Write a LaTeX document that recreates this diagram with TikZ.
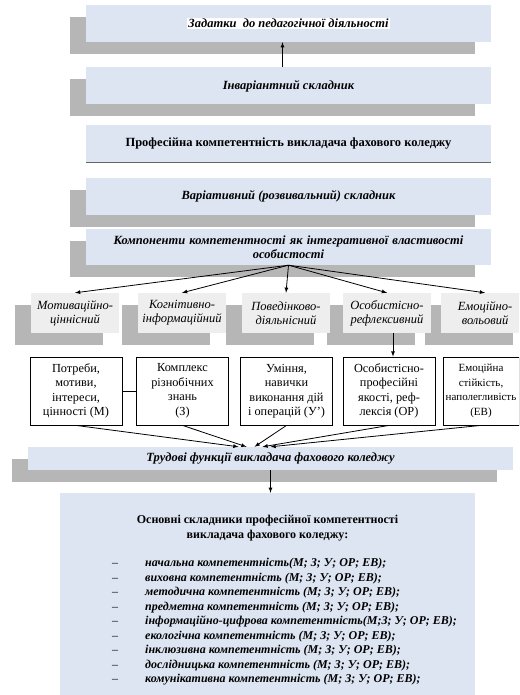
\documentclass[tikz,border=0pt]{standalone}
\usepackage{fontspec}
\setmainfont{Liberation Serif}
\usetikzlibrary{shadows,positioning}
\definecolor{barblue}{RGB}{221,229,242}
\definecolor{shgray}{RGB}{182,182,182}
\definecolor{compgray}{RGB}{238,238,238}
\newcommand{\itm}[1]{\makebox[33pt][l]{--}\textbf{\textit{#1}}}
\tikzset{
 sh/.style
  = {general shadow={fill=shgray, shadow xshift=-16pt, shadow yshift=-12pt}},
 bar/.style
  = {rectangle, fill=barblue, minimum width=405pt, minimum height=37pt,
     text centered, inner sep=2pt, font=\fontsize{12.5}{14}\selectfont\bfseries\itshape},
 barup/.style
  = {bar, font=\fontsize{12.5}{14}\selectfont\bfseries},
 cmp/.style
  = {rectangle, fill=compgray, minimum width=88pt, minimum height=40pt,
     align=center, inner sep=1pt, font=\fontsize{12.5}{14}\selectfont\itshape},
 w/.style
  = {rectangle, draw, line width=0.8pt, fill=white, minimum width=92pt, minimum height=68pt,
     align=center, inner sep=1pt, font=\fontsize{12.3}{14.5}\selectfont},
 l/.style
  = {draw, -latex, line width=0.8pt},
 ln/.style
  = {draw, line width=0.8pt},
}
\begin{document}
\begin{tikzpicture}[x=1pt,y=-1pt]
    \useasboundingbox (0,0) rectangle (519,695);
    \clip (0,0) rectangle (519,695);
    \node [bar, sh] (zad) at (288.5,23.5) {{\setlength{\fboxsep}{1pt}\colorbox{white}{Задатки\ \ до педагогічної діяльності}}};
    \node [bar, sh] (inv) at (288.5,86) {Інваріантний складник};
    \node [barup] (prof) at (288.5,144) {Професійна компетентність викладача фахового коледжу};
    \node [bar, sh] (var) at (288.5,196.5) {Варіативний (розвивальний) складник};
    \node [bar, sh, minimum height=36pt, text width=398pt] (komp) at (288.5,247)
      {Компоненти компетентності як інтегративної властивості\\ особистості};

    % right to left, so that each shadow goes under the next box
    \node [cmp, sh] (emoc) at (485,313) {Емоційно-\\вольовий};
    \node [cmp, sh] (osob) at (387,313) {Особистісно-\\рефлексивний};
    \node [cmp, sh] (poved) at (286,313) {Поведінково-\\діяльнісний};
    \node [cmp, sh] (kogn) at (182,313) {Когнітивно-\\інформаційний};
    \node [cmp, sh] (motiv) at (75,313) {Мотиваційно-\\ціннісний};

    \node [w] (m) at (76,391) {Потреби,\\ мотиви,\\ інтереси,\\ цінності (М)};
    \node [w] (z) at (182.5,391) {Комплекс\\ різнобічних\\ знань\\ (З)};
    \node [w] (u) at (286.5,391) {Уміння,\\ навички\\ виконання дій\\ і операцій (У')};
    \node [w] (op) at (389,391) {Особистісно-\\ професійні\\ якості, реф-\\ лексія (ОР)};
    \node [w, minimum width=76pt, font=\fontsize{11}{14.5}\selectfont] (ev) at (481,391)
      {Емоційна\\ стійкість,\\ наполегливість\\ (ЕВ)};

    \node [bar, sh, minimum width=485pt, minimum height=23pt] (trud) at (270.5,458.5)
      {Трудові функції викладача фахового коледжу};
    \node [rectangle, fill=barblue, minimum width=415pt, minimum height=202pt] (osn) at (267.5,594) {};
    \node [font=\fontsize{12}{14.5}\selectfont\bfseries, align=center] (osnt) at (267.5,528)
      {Основні складники професійної компетентності\\ викладача фахового коледжу:};
    \node [anchor=north west, align=left, inner sep=0pt, font=\fontsize{12}{14.5}\selectfont] (lst) at (112,558)
      {\itm{начальна компетентність(М; З; У; ОР; ЕВ);}\\
       \itm{виховна компетентність (М; З; У; ОР; ЕВ);}\\
       \itm{методична компетентність (М; З; У; ОР; ЕВ);}\\
       \itm{предметна компетентність (М; З; У; ОР; ЕВ);}\\
       \itm{інформаційно-цифрова компетентність(М;З; У; ОР; ЕВ);}\\
       \itm{екологічна компетентність (М; З; У; ОР; ЕВ);}\\
       \itm{інклюзивна компетентність (М; З; У; ОР; ЕВ);}\\
       \itm{дослідницька компетентність (М; З; У; ОР; ЕВ);}\\
       \itm{комунікативна компетентність (М; З; У; ОР; ЕВ);}};

    \path [ln, line width=1pt, black!60] (prof.south west) -- (prof.south east);
    \path [l] ([xshift=-6pt]inv.north) -- ([xshift=-6pt]zad.south);
    \path [l] (komp.south) -- (motiv.north);
    \path [l] (komp.south) -- (kogn.north);
    \path [l] (komp.south) -- (poved.north);
    \path [l] (komp.south) -- (osob.north);
    \path [l] (komp.south) -- (emoc.north);
    \path [l] ([xshift=6pt]osob.south) -- ([xshift=6pt]osob.south |- op.north);
    \path [ln] (m) -- (z);
    \path [l] (m.south) -- ([xshift=-32pt]trud.north);
    \path [l] (z.south) -- ([xshift=-24pt]trud.north);
    \path [l] (u.south) -- ([xshift=-16pt]trud.north);
    \path [l] (op.south) -- ([xshift=-8pt]trud.north);
    \path [l] (ev.south) -- (trud.north);
    \path [l] (trud.south) -- (trud.south |- osn.north);
\end{tikzpicture}
\end{document}
